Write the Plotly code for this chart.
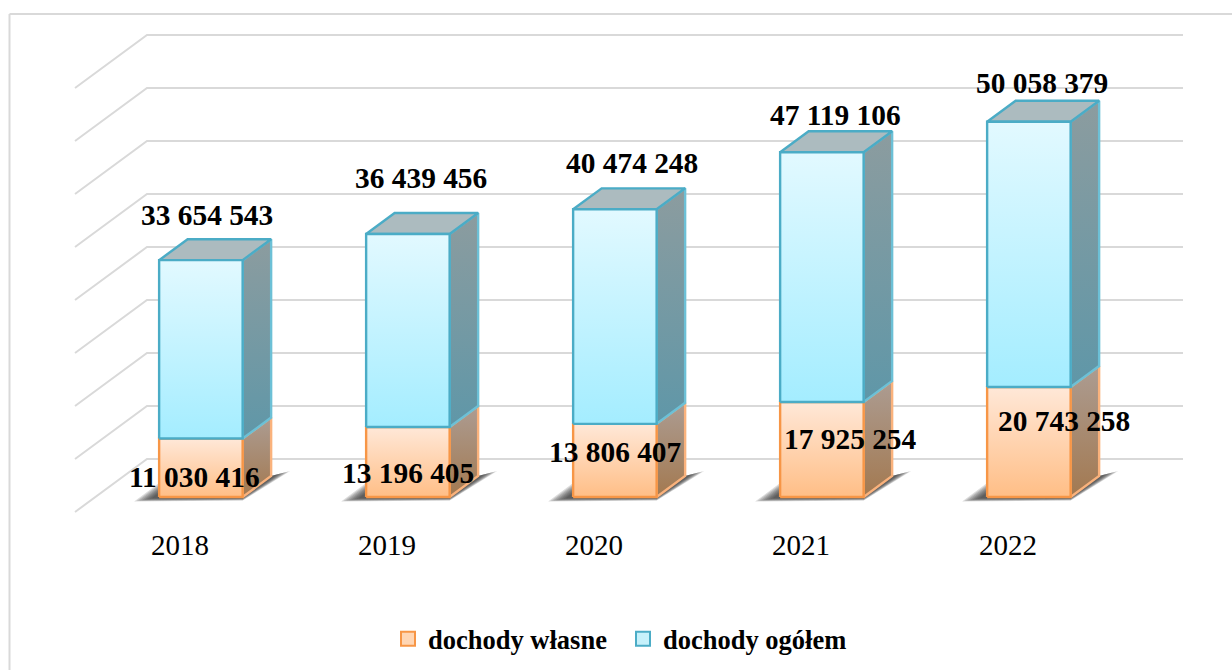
import plotly.graph_objects as go

# ---- data ----
categories = ["2018", "2019", "2020", "2021", "2022"]
dochody_wlasne = [11030416, 13196405, 13806407, 17925254, 20743258]
dochody_ogolem = [33654543, 36439456, 40474248, 47119106, 50058379]
grid_millions = [0, 10, 20, 30, 40, 50, 60, 70, 80]
label_wlasne = ["11 030 416", "13 196 405", "13 806 407", "17 925 254", "20 743 258"]
label_ogolem = ["33 654 543", "36 439 456", "40 474 248", "47 119 106", "50 058 379"]

# ---- geometry (page pixels -> axes) ----
W, H = 1232, 670
ML, MR, MT, MB = 60, 30, 20, 145
PX_CAT = 207.0       # pixels per category
PX_MIL = 5.3         # pixels per million
X0_PX, Y0_PX = 180.0, 512.0   # category 0, value 0, front of floor
DEPTH_X = 72.0 / PX_CAT
DEPTH_Y = 10.0
BAR_W = 83.5 / PX_CAT
D0, D1 = 0.283, 0.679   # bar front / back depth
BAR_SHIFT = 0.5 / PX_CAT
WALL_LEFT, WALL_RIGHT = (75 - X0_PX) / PX_CAT, (1183 - 72 - X0_PX) / PX_CAT


def proj(x, v, d):
    """oblique projection: category position, value (millions), depth 0..1"""
    return x + d * DEPTH_X, v + d * DEPTH_Y


def poly(points):
    pts = [proj(*p) for p in points]
    pts.append(pts[0])
    return [p[0] for p in pts], [p[1] for p in pts]


def px_x(p):
    return (p - ML) / (W - ML - MR)


def px_y(p):
    return 1 - (p - MT) / (H - MT - MB)


ORANGE, BLUE = "#F79646", "#4BACC6"
fig = go.Figure()


def face(points, line, top_col, bot_col=None):
    xs, ys = poly(points)
    kw = dict(fillcolor=top_col) if bot_col is None else dict(
        fillgradient=dict(type="vertical",
                          colorscale=[[0, bot_col], [1, top_col]],
                          start=min(ys), stop=max(ys)))
    fig.add_trace(go.Scatter(x=xs, y=ys, mode="lines", fill="toself",
                             line=dict(color=line, width=2.4),
                             showlegend=False, hoverinfo="skip", **kw))


# back wall grid
gx, gy = [], []
for g in grid_millions:
    a = proj(WALL_LEFT, g, 0)
    b = proj(WALL_LEFT, g, 1)
    c = proj(WALL_RIGHT, g, 1)
    gx += [a[0], b[0], c[0], None]
    gy += [a[1], b[1], c[1], None]
fig.add_trace(go.Scatter(x=gx, y=gy, mode="lines",
                         line=dict(color="#D9D9D9", width=2),
                         showlegend=False, hoverinfo="skip"))

# floor shadows: nested translucent polygons, pixel offsets from the bar's floor corners
dx = 1 / PX_CAT
dy = 1 / PX_MIL
for i in range(len(categories)):
    bl_x, bl_y = proj(i + BAR_SHIFT - BAR_W / 2, 0, D0)
    br_x, br_y = proj(i + BAR_SHIFT + BAR_W / 2, 0, D0)
    bk_x, bk_y = proj(i + BAR_SHIFT + BAR_W / 2, 0, D1)
    for g in (1.0, 0.9, 0.8, 0.7, 0.6, 0.5, 0.4, 0.3):
        xs = [bl_x - 25 * g * dx, br_x, bk_x + 19 * g * dx, bk_x, bl_x, bl_x - 25 * g * dx]
        ys = [bl_y - 4.5 * g * dy, br_y - 3.5 * g * dy, bk_y + 5 * g * dy, bk_y, bl_y + 14 * g * dy,
              bl_y - 4.5 * g * dy]
        fig.add_trace(go.Scatter(x=xs, y=ys, mode="lines", fill="toself",
                                 line=dict(width=0), fillcolor="rgba(50,50,50,0.17)",
                                 showlegend=False, hoverinfo="skip"))

# bars
for i in range(len(categories)):
    own = dochody_wlasne[i] / 1e6
    top = own + dochody_ogolem[i] / 1e6
    xl = i + BAR_SHIFT - BAR_W / 2
    xr = i + BAR_SHIFT + BAR_W / 2
    # lower segment
    face([(xr, 0, D0), (xr, 0, D1), (xr, own, D1), (xr, own, D0)], "#FAB27C", "#AC9C92", "#A37950")
    face([(xl, 0, D0), (xr, 0, D0), (xr, own, D0), (xl, own, D0)], ORANGE, "#FFE8D8", "#FFBE86")
    # upper segment
    face([(xr, own, D0), (xr, own, D1), (xr, top, D1), (xr, top, D0)], "#6CC0D6", "#8C9C9F", "#5F97A8")
    face([(xl, top, D0), (xr, top, D0), (xr, top, D1), (xl, top, D1)], BLUE, "#ACBBBF")
    face([(xl, own, D0), (xr, own, D0), (xr, top, D0), (xl, top, D0)], BLUE, "#E2F9FF", "#A4EDFF")

# legend entries
fig.add_trace(go.Scatter(x=[None], y=[None], mode="markers", name="dochody własne",
                         marker=dict(symbol="square", size=14, color="#FFD6B4",
                                     line=dict(color=ORANGE, width=2))))
fig.add_trace(go.Scatter(x=[None], y=[None], mode="markers", name="dochody ogółem",
                         marker=dict(symbol="square", size=14, color="#C6F1FB",
                                     line=dict(color=BLUE, width=2))))

# data labels (hand placed in the reference, offsets in px from the bar top)
own_dx = [-6, 1, 1, 29, 36]
own_dy = [-38, -46, -28, -37, -34]
tot_dx = [7, 14, 18, 14, 14]
tot_dy = [45, 56, 46, 37, 39]
ann = []
FONT = "Liberation Serif"
for i in range(len(categories)):
    own = dochody_wlasne[i] / 1e6
    top = own + dochody_ogolem[i] / 1e6
    x, y = proj(i, own, D0)
    ann.append(dict(x=x, y=y, text=label_wlasne[i], showarrow=False, xshift=own_dx[i],
                    yshift=own_dy[i], font=dict(family=FONT, size=29.4, color="black", weight="bold")))
    x, y = proj(i, top, D0)
    ann.append(dict(x=x, y=y, text=label_ogolem[i], showarrow=False, xshift=tot_dx[i],
                    yshift=tot_dy[i], font=dict(family=FONT, size=29.4, color="black", weight="bold")))

frame = [dict(type="line", xref="paper", yref="paper", x0=px_x(9.5), x1=px_x(9.5), y0=px_y(14), y1=px_y(670),
              line=dict(color="#D9D9D9", width=2)),
         dict(type="line", xref="paper", yref="paper", x0=px_x(9.5), x1=px_x(1232), y0=px_y(14), y1=px_y(14),
              line=dict(color="#D9D9D9", width=2))]

fig.update_layout(
    width=W, height=H, autosize=False,
    margin=dict(l=ML, r=MR, t=MT, b=MB, pad=0, autoexpand=False),
    paper_bgcolor="white", plot_bgcolor="white",
    font=dict(family=FONT, color="black"),
    annotations=ann, shapes=frame,
    xaxis=dict(range=[(ML - X0_PX) / PX_CAT, (W - MR - X0_PX) / PX_CAT],
               tickmode="array", tickvals=list(range(len(categories))), ticktext=categories,
               tickfont=dict(family=FONT, size=29, color="black"),
               showgrid=False, zeroline=False, showline=False, ticks="", fixedrange=True,
               automargin=False),
    yaxis=dict(range=[(Y0_PX - (H - MB)) / PX_MIL, (Y0_PX - MT) / PX_MIL],
               visible=False, showgrid=False, zeroline=False, fixedrange=True),
    legend=dict(orientation="h", x=px_x(388), y=px_y(615), xanchor="left", yanchor="top",
                font=dict(family=FONT, size=26.5, color="black", weight="bold"),
                itemwidth=30, entrywidth=190, entrywidthmode="pixels",
                bgcolor="rgba(0,0,0,0)"),
    showlegend=True,
)
fig.write_html("out.html", config={"displayModeBar": False},
               post_script="document.body.style.margin='0';")
